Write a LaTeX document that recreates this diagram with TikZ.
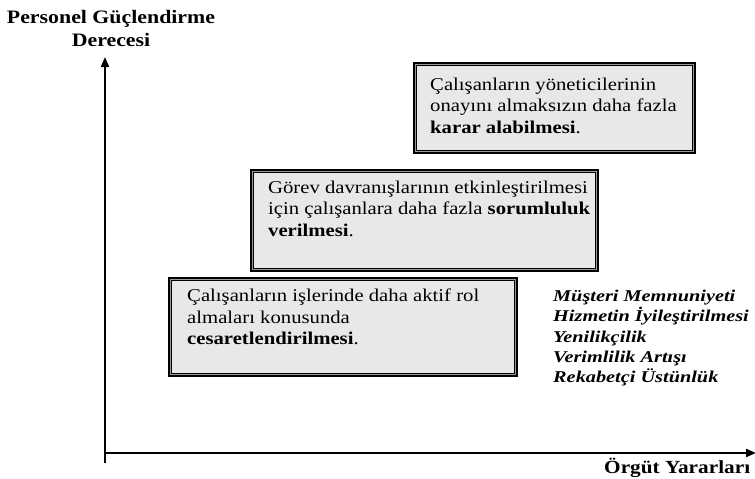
\documentclass[tikz,border=0pt]{standalone}
\usepackage{fontspec}
\setmainfont{Liberation Serif}[FakeStretch=1.15]
\newfontfamily\listfont{Liberation Serif}[FakeStretch=1.23]
\usetikzlibrary{arrows.meta}
\definecolor{boxfill}{HTML}{E8E8E8}
\definecolor{gapgray}{HTML}{9A9A9A}
\tikzset{
  obox/.style={draw=black, line width=1.6pt, fill=gapgray, inner sep=0pt, anchor=north west},
  ibox/.style={draw=black, line width=0.8pt, fill=boxfill},
  txt/.style={anchor=north west, align=left, inner sep=0pt, font=\fontsize{18}{21.5}\selectfont},
  axis/.style={line width=2pt, -{Triangle[length=10pt,width=8pt]}},
  lbl/.style={inner sep=0pt, font=\fontsize{19}{23}\selectfont\bfseries, align=center},
  xlbl/.style={inner sep=0pt, font=\fontsize{18.5}{22}\selectfont\bfseries},
  lst/.style={anchor=north west, align=left, inner sep=0pt, font=\listfont\fontsize{16.5}{20.2}\selectfont\bfseries\itshape}
}
\begin{document}
\begin{tikzpicture}[x=1pt,y=-1pt]
\useasboundingbox (0,0) rectangle (755,479);
% axes
\coordinate (Ybot) at (105,463);
\coordinate (Ytop) at (105,57);
\coordinate (O) at (105,453);
\coordinate (Xend) at (756,453);
\draw[axis] (Ybot) -- (Ytop);
\draw[axis] (O) -- (Xend);
% axis labels
\node[lbl, anchor=north] (ylab) at (111,10) {Personel Güçlendirme\\Derecesi};
\node[xlbl, anchor=base west] (xlab) at (604,473) {Örgüt Yararları};
% box 1
\node[obox, minimum width=281pt, minimum height=90pt] (b1) at (413,62) {};
\draw[ibox] ([xshift=3.2pt,yshift=-3.2pt]b1.north west) rectangle ([xshift=-3.2pt,yshift=3.2pt]b1.south east);
\node[txt] (t1) at (430,77.5) {Çalışanların yöneticilerinin\\onayını almaksızın daha fazla\\\textbf{karar alabilmesi}.};
% box 2
\node[obox, minimum width=347pt, minimum height=101pt] (b2) at (250,169) {};
\draw[ibox] ([xshift=3.2pt,yshift=-3.2pt]b2.north west) rectangle ([xshift=-3.2pt,yshift=3.2pt]b2.south east);
\node[txt] (t2) at (268,180.5) {Görev davranışlarının etkinleştirilmesi\\için çalışanlara daha fazla \textbf{sorumluluk}\\\textbf{verilmesi}.};
% box 3
\node[obox, minimum width=348pt, minimum height=98pt] (b3) at (168,277) {};
\draw[ibox] ([xshift=3.2pt,yshift=-3.2pt]b3.north west) rectangle ([xshift=-3.2pt,yshift=3.2pt]b3.south east);
\node[txt] (t3) at (187,289) {Çalışanların işlerinde daha aktif rol\\almaları konusunda\\\textbf{cesaretlendirilmesi}.};
% list
\node[lst] (list) at (553,290) {Müşteri Memnuniyeti\\Hizmetin İyileştirilmesi\\Yenilikçilik\\Verimlilik Artışı\\Rekabetçi Üstünlük};
\end{tikzpicture}
\end{document}
